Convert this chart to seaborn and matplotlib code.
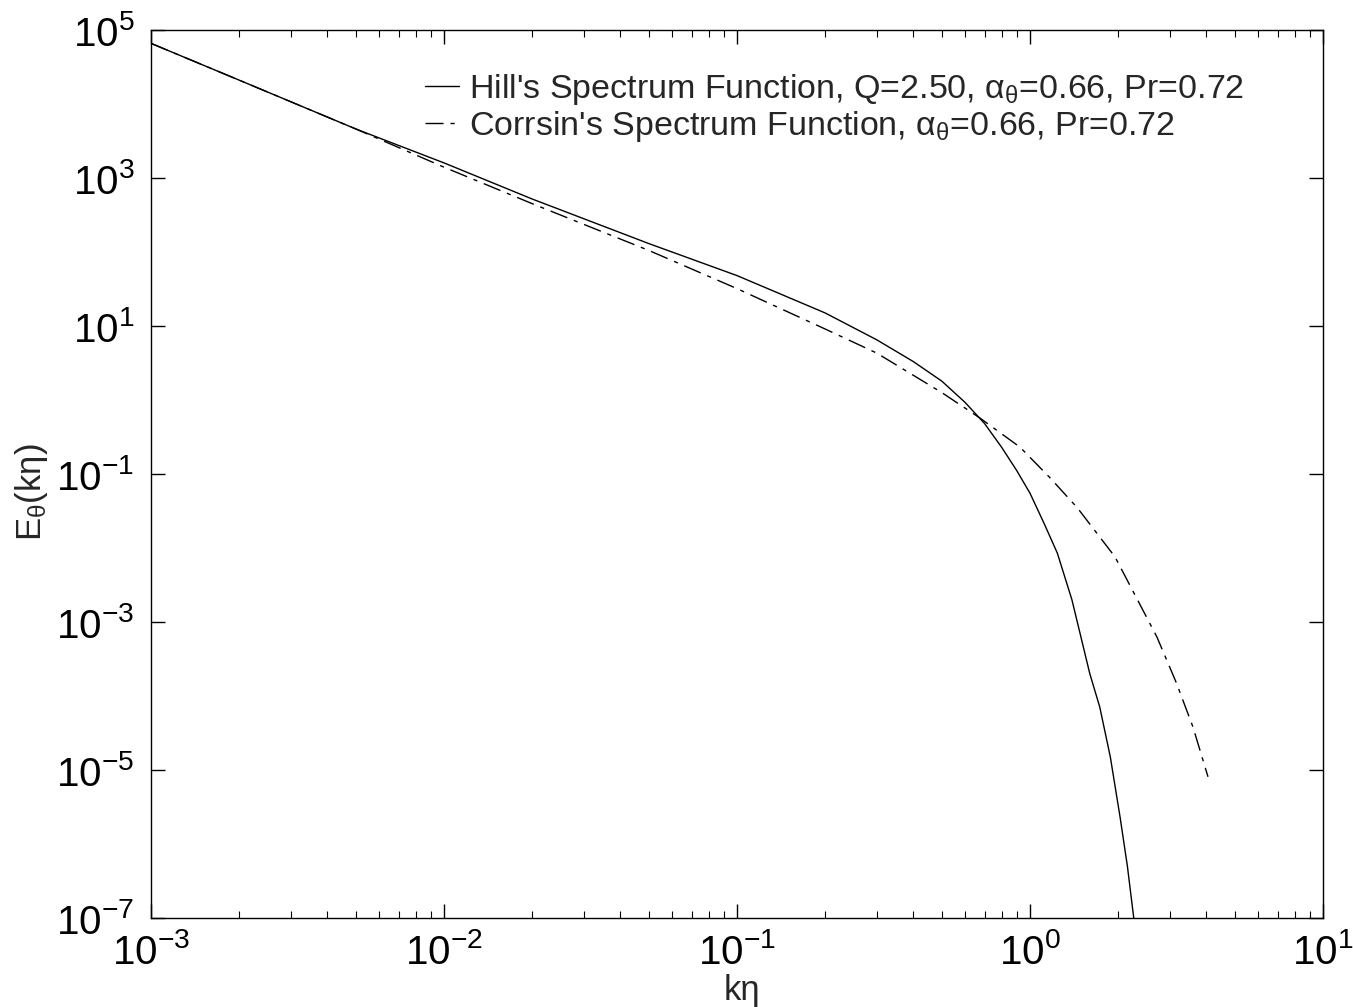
import numpy as np
import pandas as pd
import matplotlib
matplotlib.use("Agg")
import matplotlib.pyplot as plt
import seaborn as sns
from matplotlib.ticker import LogLocator, LogFormatterSciNotation, NullFormatter, FixedLocator, NullLocator

# ---- data ----
k_hill = [0.001, 0.002, 0.005, 0.01, 0.02, 0.05, 0.1, 0.2, 0.3, 0.4, 0.5, 0.6,
          0.7, 0.8, 0.9, 1.0, 1.12, 1.24, 1.39, 1.6, 1.73, 1.88, 2.03, 2.15, 2.26]
E_hill = [6.6e4, 2.1e4, 4.6e3, 1.6e3, 5.2e2, 1.3e2, 48, 15, 6.5, 3.3, 1.8, 0.93,
          0.48, 0.23, 0.112, 0.055, 0.021, 8.5e-3, 2.0e-3, 2.0e-4, 7.1e-5, 1.5e-5,
          2.3e-6, 5.0e-7, 1.0e-7]

k_corr = [0.001, 0.002, 0.005, 0.01, 0.02, 0.05, 0.1, 0.2, 0.3, 0.5, 0.675,
          0.925, 1.17, 1.45, 1.95, 2.71, 3.16, 3.6, 4.05]
E_corr = [6.6e4, 2.1e4, 4.6e3, 1.4e3, 4.5e2, 1.05e2, 32, 9.1, 4.3, 1.26, 0.57,
          0.23, 0.089, 0.035, 7.6e-3, 6.3e-4, 1.5e-4, 3.8e-5, 8.1e-6]

label_hill = "Hill's Spectrum Function, Q=2.50, α$_θ$=0.66, Pr=0.72"
label_corr = "Corrsin's Spectrum Function, α$_θ$=0.66, Pr=0.72"
xlabel = "kη"
ylabel = "E$_θ$(kη)"
y_major = [1e-7, 1e-5, 1e-3, 1e-1, 1e1, 1e3, 1e5]

sns.set_theme(style="ticks")
plt.rcParams['font.family'] = ['Liberation Sans', 'DejaVu Sans']
plt.rcParams['mathtext.default'] = 'regular'
plt.rcParams['mathtext.fontset'] = 'custom'
plt.rcParams['mathtext.rm'] = 'Liberation Sans'
plt.rcParams['mathtext.it'] = 'Liberation Sans'
plt.rcParams['axes.unicode_minus'] = False

fig = plt.figure(figsize=(13.53, 10.07), dpi=100)
ax = fig.add_axes([151/1353, 1-918/1007, (1323-151)/1353, (918-30)/1007])

df_h = pd.DataFrame({"k": k_hill, "E": E_hill})
df_c = pd.DataFrame({"k": k_corr, "E": E_corr})
sns.lineplot(data=df_h, x="k", y="E", ax=ax, color="black", lw=1.0,
             label=label_hill, sort=False, estimator=None)
sns.lineplot(data=df_c, x="k", y="E", ax=ax, color="black", lw=1.0,
             label=label_corr, sort=False, estimator=None,
             linestyle=(0, (13, 5, 3, 5)))

ax.set_xscale("log")
ax.set_yscale("log")
ax.set_xlim(1e-3, 1e1)
ax.set_ylim(1e-7, 1e5)

ax.xaxis.set_major_locator(LogLocator(base=10, numticks=20))
ax.xaxis.set_minor_locator(LogLocator(base=10, subs=np.arange(2, 10), numticks=100))
ax.xaxis.set_minor_formatter(NullFormatter())
ax.yaxis.set_major_locator(FixedLocator(y_major))
ax.yaxis.set_minor_locator(NullLocator())
ax.xaxis.set_major_formatter(LogFormatterSciNotation())
ax.yaxis.set_major_formatter(LogFormatterSciNotation())

ax.tick_params(which="both", direction="in", top=True, right=True, colors="black")
ax.tick_params(which="major", length=10, width=1.0, labelsize=29)
ax.tick_params(axis="x", which="major", pad=11)
ax.tick_params(axis="y", which="major", pad=12)
ax.tick_params(which="minor", length=5, width=0.8)
for s in ax.spines.values():
    s.set_color("black")
    s.set_linewidth(1.0)

ax.set_xlabel(xlabel, fontsize=25)
ax.set_ylabel(ylabel, fontsize=25)
ax.xaxis.set_label_coords((742-151)/1172, (918-974)/888)
ax.yaxis.set_label_coords((50-151)/1172, (918-492)/888)

ax.legend(loc="upper left", bbox_to_anchor=(425/1353, 1-72/1007),
          bbox_transform=fig.transFigure, frameon=False, fontsize=24.5,
          handlelength=1.0, handletextpad=0.3, labelspacing=0.05,
          borderpad=0, borderaxespad=0)

fig.savefig("out.png", dpi=100)
